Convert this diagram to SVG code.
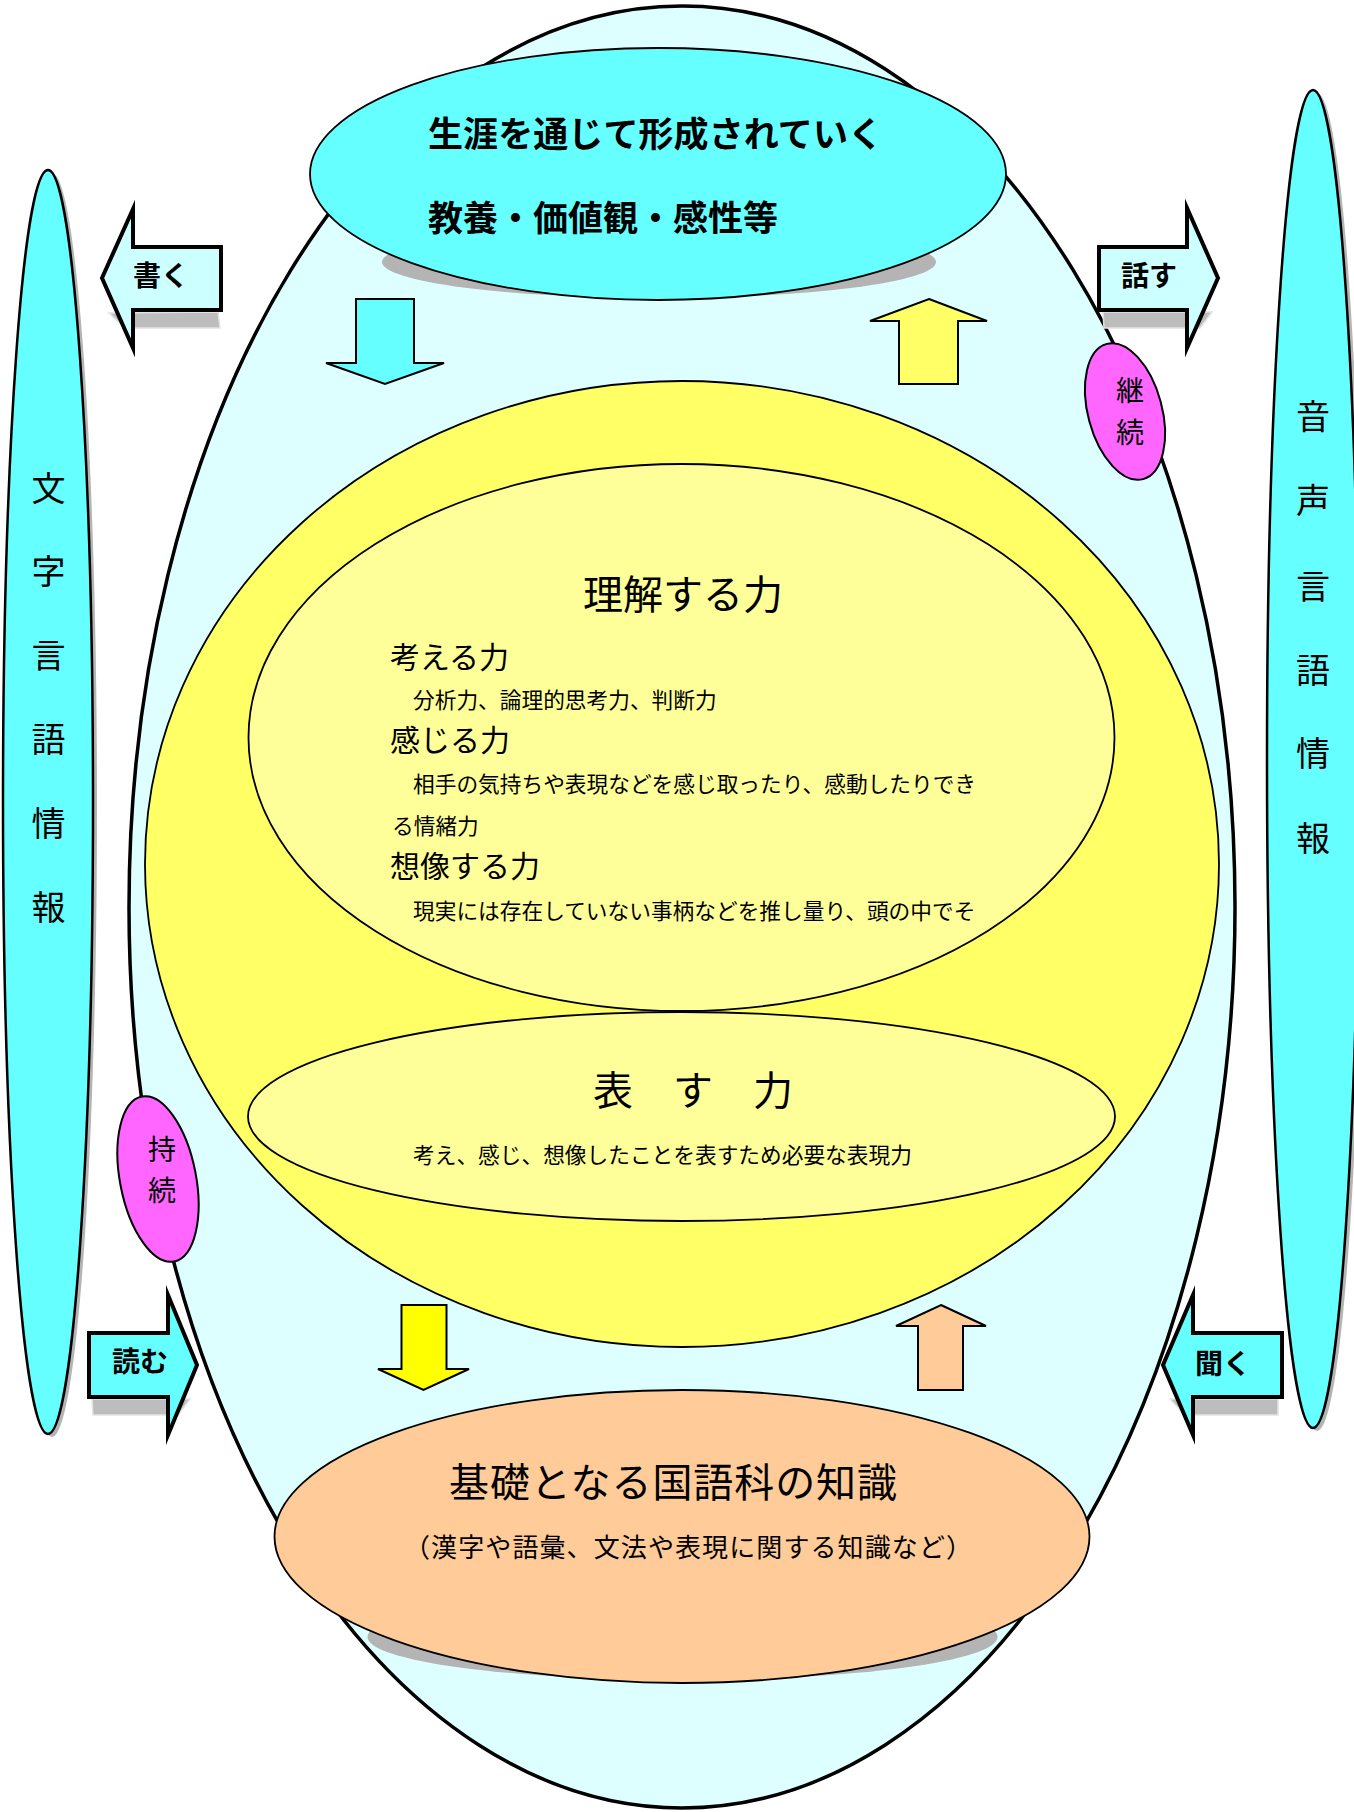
<svg xmlns="http://www.w3.org/2000/svg" width="1354" height="1812" viewBox="0 0 1354 1812">
<style>
text{font-family:"Noto Sans CJK JP","Noto Sans CJK SC",sans-serif;fill:#000}
.b{font-weight:bold}
.thin{stroke:#000;stroke-width:1.8}
.arr{stroke:#000;stroke-width:2;stroke-linejoin:miter}
.side{stroke:#000;stroke-width:4;stroke-linejoin:miter;stroke-miterlimit:10}
.shd{fill:#B4B4B4}
.ashd{fill:#BDBDBD;stroke:#E2E2E2;stroke-width:1.5}
.vt{font-size:34px;text-anchor:middle}
.body{font-size:21.7px}
.head{font-size:30px}
.lbl{font-size:28px;font-weight:bold}
.pk{font-size:28px;text-anchor:middle}
</style>
<rect width="1354" height="1812" fill="#fff"/>

<g id="left-info">
<ellipse class="shd" cx="52" cy="805" rx="45" ry="632"/>
<ellipse cx="48" cy="802" rx="45" ry="632" fill="#66FFFF" stroke="#000" stroke-width="2.5"/>
<text class="vt"><tspan x="48.5" y="501">文</tspan><tspan x="48.5" y="584">字</tspan><tspan x="48.5" y="668">言</tspan><tspan x="48.5" y="752">語</tspan><tspan x="48.5" y="836">情</tspan><tspan x="48.5" y="920">報</tspan></text>
</g>

<g id="right-info">
<ellipse class="shd" cx="1317" cy="762" rx="46" ry="669"/>
<ellipse cx="1313" cy="759" rx="46" ry="669" fill="#66FFFF" stroke="#000" stroke-width="2.5"/>
<text class="vt"><tspan x="1313" y="429">音</tspan><tspan x="1313" y="513">声</tspan><tspan x="1313" y="599">言</tspan><tspan x="1313" y="683">語</tspan><tspan x="1313" y="766">情</tspan><tspan x="1313" y="851">報</tspan></text>
</g>

<g id="outer">
<ellipse cx="682" cy="907" rx="553" ry="901" fill="#DDFFFF" stroke="#000" stroke-width="3.5"/>
</g>

<g id="top-node">
<ellipse class="shd" cx="659" cy="262" rx="277" ry="36"/>
<ellipse class="thin" cx="658" cy="174" rx="348" ry="126" fill="#66FFFF"/>
<text class="b" x="428" y="147" font-size="35" textLength="455" lengthAdjust="spacing">生涯を通じて形成されていく</text>
<text class="b" x="428" y="231" font-size="35">教養・価値観・感性等</text>
</g>

<g id="ability">
<ellipse class="thin" cx="682" cy="864" rx="537" ry="483" fill="#FFFF66"/>
</g>

<g id="understand">
<ellipse class="thin" cx="681.5" cy="737.5" rx="433" ry="273.5" fill="#FFFF99"/>
<text x="683" y="609" font-size="40" text-anchor="middle">理解する力</text>
<text class="head" x="390" y="668">考える力</text>
<text class="body" x="413" y="708">分析力、論理的思考力、判断力</text>
<text class="head" x="390" y="751">感じる力</text>
<text class="body" x="413" y="792">相手の気持ちや表現などを感じ取ったり、感動したりでき</text>
<text class="body" x="392" y="834">る情緒力</text>
<text class="head" x="390" y="877">想像する力</text>
<text class="body" x="413" y="919">現実には存在していない事柄などを推し量り、頭の中でそ</text>
</g>

<g id="express">
<ellipse class="thin" cx="681.5" cy="1116.5" rx="433.5" ry="104.5" fill="#FFFF99"/>
<text x="593" y="1105" font-size="40">表　す　力</text>
<text class="body" x="413" y="1163" font-size="21.9">考え、感じ、想像したことを表すため必要な表現力</text>
</g>

<g id="connectors">
<polygon class="arr" fill="#66FFFF" points="356,299 414,299 414,363 444,363 385,384 326,363 356,363"/>
<polygon class="arr" fill="#FFFF66" points="929,299 987,321 958,321 958,384 899,384 899,321 870,321"/>
<polygon class="arr" fill="#FFFF00" points="401.5,1305 446.5,1305 446.5,1369 469,1369 423.5,1390 378,1369 401.5,1369"/>
<polygon class="arr" fill="#FFCC99" points="941,1305 986,1326 963,1326 963,1390 918,1390 918,1326 896,1326"/>
</g>

<g id="base-node">
<ellipse class="shd" cx="682.5" cy="1637" rx="315" ry="43"/>
<ellipse class="thin" cx="682" cy="1536.5" rx="407.5" ry="146.5" fill="#FFCC99"/>
<text x="449" y="1497" font-size="40" textLength="448" lengthAdjust="spacing">基礎となる国語科の知識</text>
<text x="404" y="1557" font-size="26" textLength="568" lengthAdjust="spacing">（漢字や語彙、文法や表現に関する知識など）</text>
</g>

<g id="keizoku">
<ellipse cx="1125" cy="411.5" rx="37" ry="70" transform="rotate(-15 1125 411.5)" fill="#FF66FF" stroke="#000" stroke-width="2"/>
<text class="pk"><tspan x="1130" y="401">継</tspan><tspan x="1130" y="443">続</tspan></text>
</g>

<g id="jizoku">
<ellipse cx="158" cy="1179" rx="38" ry="84" transform="rotate(-11 158 1179)" fill="#FF66FF" stroke="#000" stroke-width="2"/>
<text class="pk" font-size="29"><tspan x="162" y="1160">持</tspan><tspan x="162" y="1201">続</tspan></text>
</g>

<g id="kaku">
<polygon class="ashd" points="109,313 218,312 220,328 125,328"/>
<polygon class="side" fill="#CCFFFF" points="102,278 133,209 133,247 221,247 221,310 133,310 133,348"/>
<text class="lbl" x="133" y="286">書く</text>
</g>

<g id="hanasu">
<polygon class="ashd" points="1103,312 1212,312 1200,328 1104,328"/>
<polygon class="side" fill="#CCFFFF" points="1218,278 1187,208 1187,247 1099,247 1099,310 1187,310 1187,348"/>
<text class="lbl" x="1121" y="286">話す</text>
</g>

<g id="yomu">
<polygon class="ashd" points="92,1399 190,1399 178,1415 93,1415"/>
<polygon class="side" fill="#66FFFF" points="197,1365 168,1295 168,1333 89,1333 89,1397 168,1397 168,1435"/>
<text class="lbl" x="112" y="1372">読む</text>
</g>

<g id="kiku">
<polygon class="ashd" points="1170,1399 1278,1399 1278,1415 1185,1415"/>
<polygon class="side" fill="#66FFFF" points="1163,1365 1193,1295 1193,1333 1282,1333 1282,1397 1193,1397 1193,1435"/>
<text class="lbl" x="1195" y="1374">聞く</text>
</g>
</svg>
